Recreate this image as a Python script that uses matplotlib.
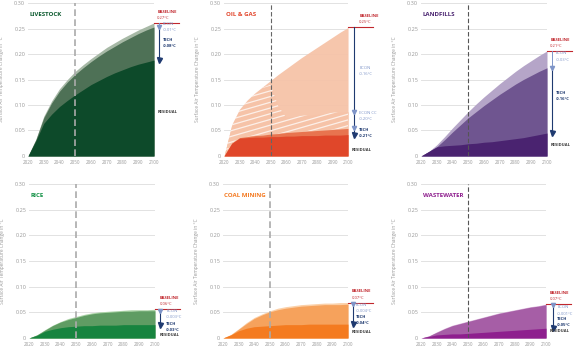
import numpy as np
import matplotlib
matplotlib.use("Agg")
import matplotlib.pyplot as plt

plt.rcParams["font.family"] = ["Open Sans", "DejaVu Sans"]

years = [2020, 2025, 2030, 2035, 2040, 2045, 2050, 2055, 2060,
         2065, 2070, 2075, 2080, 2085, 2090, 2095, 2100]

# warming contribution in degC
livestock_baseline = [0, 0.033, 0.078, 0.108, 0.132, 0.150, 0.166, 0.179, 0.191,
                      0.202, 0.213, 0.222, 0.231, 0.239, 0.247, 0.254, 0.261]
livestock_econ = [0, 0.032, 0.075, 0.104, 0.127, 0.145, 0.160, 0.173, 0.185,
                  0.196, 0.206, 0.215, 0.224, 0.232, 0.240, 0.247, 0.253]
livestock_residual = [0, 0.030, 0.064, 0.082, 0.097, 0.109, 0.120, 0.130, 0.140,
                      0.148, 0.156, 0.163, 0.169, 0.175, 0.180, 0.184, 0.188]

oilgas_baseline = [0, 0.062, 0.092, 0.110, 0.124, 0.136, 0.148, 0.160, 0.171,
                   0.182, 0.193, 0.203, 0.213, 0.223, 0.233, 0.243, 0.252]
oilgas_econ = [0, 0.060, 0.090, 0.108, 0.122, 0.134, 0.140, 0.098, 0.076,
               0.077, 0.079, 0.080, 0.082, 0.083, 0.085, 0.086, 0.087]
oilgas_econcc = [0, 0.025, 0.036, 0.038, 0.040, 0.041, 0.043, 0.044, 0.046,
                 0.047, 0.048, 0.049, 0.050, 0.051, 0.052, 0.053, 0.054]
oilgas_residual = [0, 0.025, 0.035, 0.036, 0.037, 0.037, 0.038, 0.038, 0.039,
                   0.039, 0.040, 0.040, 0.040, 0.041, 0.041, 0.041, 0.042]

landfill_baseline = [0, 0.009, 0.022, 0.038, 0.055, 0.071, 0.087, 0.102, 0.116,
                     0.129, 0.142, 0.154, 0.166, 0.177, 0.187, 0.197, 0.206]
landfill_econ = [0, 0.009, 0.018, 0.032, 0.047, 0.061, 0.075, 0.087, 0.099,
                 0.110, 0.121, 0.131, 0.141, 0.150, 0.158, 0.166, 0.173]
landfill_residual = [0, 0.009, 0.018, 0.020, 0.021, 0.022, 0.024, 0.025, 0.027,
                     0.028, 0.030, 0.032, 0.034, 0.036, 0.039, 0.042, 0.045]

rice_baseline = [0, 0.006, 0.016, 0.025, 0.032, 0.038, 0.042, 0.046, 0.049,
                 0.051, 0.052, 0.053, 0.054, 0.055, 0.055, 0.055, 0.056]
rice_econ = [0, 0.006, 0.015, 0.024, 0.031, 0.036, 0.040, 0.044, 0.047,
             0.049, 0.050, 0.051, 0.052, 0.052, 0.053, 0.053, 0.053]
rice_residual = [0, 0.005, 0.013, 0.017, 0.020, 0.022, 0.023, 0.024, 0.024,
                 0.025, 0.025, 0.025, 0.026, 0.026, 0.026, 0.026, 0.026]

coal_baseline = [0, 0.007, 0.018, 0.030, 0.040, 0.047, 0.053, 0.058, 0.061,
                 0.063, 0.065, 0.066, 0.067, 0.068, 0.068, 0.069, 0.069]
coal_econ = [0, 0.006, 0.017, 0.028, 0.038, 0.045, 0.051, 0.055, 0.058,
             0.060, 0.062, 0.063, 0.064, 0.065, 0.065, 0.065, 0.066]
coal_residual = [0, 0.006, 0.014, 0.019, 0.022, 0.023, 0.024, 0.025, 0.026,
                 0.026, 0.026, 0.027, 0.027, 0.027, 0.027, 0.027, 0.027]

waste_baseline = [0, 0.004, 0.012, 0.019, 0.025, 0.029, 0.033, 0.037, 0.041,
                  0.045, 0.049, 0.052, 0.055, 0.058, 0.061, 0.063, 0.066]
waste_econ = [0, 0.004, 0.011, 0.018, 0.024, 0.028, 0.032, 0.036, 0.040,
              0.044, 0.048, 0.051, 0.054, 0.057, 0.060, 0.062, 0.065]
waste_residual = [0, 0.003, 0.006, 0.007, 0.008, 0.008, 0.009, 0.010, 0.011,
                  0.012, 0.013, 0.014, 0.015, 0.016, 0.017, 0.018, 0.019]

titles = ["LIVESTOCK", "OIL & GAS", "LANDFILLS", "RICE", "COAL MINING", "WASTEWATER"]
baseline_text = ["0.27°C", "0.25°C", "0.21°C", "0.06°C", "0.07°C", "0.07°C"]
econ_text = ["-0.01°C", "-0.16°C", "-0.03°C", "-0.003°C", "-0.004°C", "-0.001°C"]
econcc_text = "-0.20°C"
tech_text = ["-0.08°C", "-0.21°C", "-0.16°C", "-0.03°C", "-0.04°C", "-0.05°C"]

yticks = [0, 0.05, 0.10, 0.15, 0.20, 0.25, 0.30]
ytick_labels = ["0", "0.05", "0.10", "0.15", "0.20", "0.25", "0.30"]

RED = "#c1272d"
NAVY = "#1f3a70"
LIGHTBLUE = "#7f95c8"
GREY = "#999999"

# layout: axes rect, title colour, fills (light, mid, dark), dash colour,
# annotation x positions and label heights
panels = [
    dict(rect=[0.0487, 0.5543, 0.2191, 0.4371], title_c="#0b5a2e",
         colors=["#a7b9a6", "#4e7156", "#0d4a2a"], dash="#aaaaaa", dlw=1.2,
         bx=1.025, ax_=1.04, lx=1.07, econ_y=0.253, tech_y=0.221, res_y=0.086),
    dict(rect=[0.3896, 0.5543, 0.2157, 0.4371], title_c="#e2452b",
         colors=["#f6c3a8", "#e8744f", "#e0472a"], dash="#666666", dlw=0.8,
         bx=1.09, ax_=1.048, lx=1.09, econ_y=0.167, cc_y=0.078, tech_y=0.045, res_y=0.012),
    dict(rect=[0.7322, 0.5543, 0.2191, 0.4371], title_c="#4b2571",
         colors=["#b5a5c8", "#6f5590", "#4a2370"], dash="#555555", dlw=0.8,
         bx=1.025, ax_=1.04, lx=1.07, econ_y=0.195, tech_y=0.118, res_y=0.0216),
    dict(rect=[0.0504, 0.0343, 0.2191, 0.44], title_c="#129045",
         colors=["#a9d2a5", "#5f9c63", "#17843f"], dash="#aaaaaa", dlw=1.2,
         bx=1.035, ax_=1.04, lx=1.09, econ_y=0.046, tech_y=0.021, res_y=0.006),
    dict(rect=[0.3878, 0.0343, 0.2174, 0.44], title_c="#f47920",
         colors=["#fbd0a8", "#f6a25c", "#f47b20"], dash="#aaaaaa", dlw=1.2,
         bx=1.03, ax_=1.04, lx=1.065, econ_y=0.058, tech_y=0.035, res_y=0.012),
    dict(rect=[0.7322, 0.0343, 0.2174, 0.44], title_c="#8e1f8e",
         colors=["#dab6da", "#a65ea6", "#8e1f8e"], dash="#555555", dlw=0.8,
         bx=1.03, ax_=1.055, lx=1.09, econ_y=0.0536, tech_y=0.032, res_y=0.0136),
]


def style_axes(ax, p, title):
    ax.set_xlim(2020, 2100)
    ax.set_ylim(0, 0.30)
    ax.set_xticks(range(2020, 2101, 10))
    ax.set_yticks(yticks)
    ax.set_yticklabels(ytick_labels)
    ax.tick_params(axis="x", length=0, labelsize=3.3, colors=GREY, pad=3)
    ax.tick_params(axis="y", length=0, labelsize=4, colors=GREY, pad=2)
    for s in ax.spines.values():
        s.set_visible(False)
    ax.yaxis.grid(True, color="#e2e2e2", lw=0.7)
    ax.set_axisbelow(True)
    ax.set_ylabel("Surface Air Temperature Change in °C", fontsize=3.5, color=GREY)
    ax.yaxis.set_label_coords(-0.19, 0.5)
    ax.axvline(2050, color=p["dash"], lw=p["dlw"], ls=(0, (4, 2)), zorder=5)
    ax.text(0.012, 0.925, title, transform=ax.transAxes, fontsize=4.4,
            fontweight="bold", color=p["title_c"], va="center", ha="left", zorder=6)


def small(ax, x, y, txt, color, bold=False, dy=0):
    ax.annotate(txt, xy=(x, y), xycoords=ax.get_yaxis_transform(),
                xytext=(0, dy), textcoords="offset points", fontsize=3,
                color=color, fontweight="bold" if bold else "normal",
                ha="left", va="center", annotation_clip=False)


def annotate_end(ax, p, i, base, econ, end, econcc=None):
    tr = ax.get_yaxis_transform()
    ax.plot([1.0, 1.2], [base, base], transform=tr, color=RED, lw=0.8, clip_on=False)
    small(ax, p["bx"], base, "BASELINE", RED, True, 8)
    small(ax, p["bx"], base, baseline_text[i], RED, False, 3.6)

    x = p["ax_"]
    if econcc is None:
        ax.plot([x, x], [base, econ], transform=tr, color=LIGHTBLUE, lw=0.7, clip_on=False)
        ax.plot([x, x], [econ, end], transform=tr, color=NAVY, lw=0.8, clip_on=False)
        ax.plot([x], [econ], marker="v", ms=3, color=LIGHTBLUE, transform=tr, clip_on=False)
    else:
        ax.plot([x, x], [base, end], transform=tr, color=NAVY, lw=0.8, clip_on=False)
        ax.plot([x, x], [econ, econcc], marker="v", ms=3, ls="none",
                color=LIGHTBLUE, transform=tr, clip_on=False)
    ax.plot([x], [end], marker="v", ms=3.6, color=NAVY, transform=tr, clip_on=False)

    small(ax, p["lx"], p["econ_y"], "ECON", LIGHTBLUE, False, 2.2)
    small(ax, p["lx"], p["econ_y"], econ_text[i], LIGHTBLUE, False, -2.2)
    if econcc is not None:
        small(ax, p["lx"], p["cc_y"], "ECON CC", LIGHTBLUE, False, 2.2)
        small(ax, p["lx"], p["cc_y"], econcc_text, LIGHTBLUE, False, -2.2)
    small(ax, p["lx"], p["tech_y"], "TECH", NAVY, True, 2.2)
    small(ax, p["lx"], p["tech_y"], tech_text[i], NAVY, True, -2.2)
    small(ax, p["bx"] if econcc is None else 1.03, p["res_y"], "RESIDUAL", "#3a3a3a", True)


def draw_simple(ax, p, i, baseline, econ, residual):
    light, mid, dark = p["colors"]
    ax.fill_between(years, 0, baseline, color=light, lw=0, zorder=1)
    ax.fill_between(years, 0, econ, color=mid, lw=0, zorder=2)
    ax.fill_between(years, 0, residual, color=dark, lw=0, zorder=3)
    annotate_end(ax, p, i, baseline[-1], econ[-1], residual[-1])


def draw_oilgas(ax, p, i):
    light, mid, dark = p["colors"]
    ax.fill_between(years, 0, oilgas_baseline, color=light, lw=0, zorder=1, alpha=0.95)
    band = ax.fill_between(years, oilgas_econcc, oilgas_econ, color=light, lw=0, zorder=2)
    clip = band.get_paths()[0]
    # white diagonal stripes on the econ cc band
    for c in np.arange(-0.10, 0.30, 0.0112):
        ln, = ax.plot([2020, 2100], [c, c + 0.07], color="white", lw=0.9,
                      alpha=0.75, zorder=2.5)
        ln.set_clip_path(clip, ax.transData)
    ax.fill_between(years, 0, oilgas_econcc, color=mid, lw=0, zorder=3)
    ax.fill_between(years, 0, oilgas_residual, color=dark, lw=0, zorder=4)
    annotate_end(ax, p, i, oilgas_baseline[-1], oilgas_econ[-1],
                 oilgas_residual[-1], econcc=oilgas_econcc[-1])


def main():
    fig = plt.figure(figsize=(5.75, 3.5), dpi=100)
    axes = [fig.add_axes(p["rect"]) for p in panels]

    draw_simple(axes[0], panels[0], 0, livestock_baseline, livestock_econ, livestock_residual)
    draw_oilgas(axes[1], panels[1], 1)
    draw_simple(axes[2], panels[2], 2, landfill_baseline, landfill_econ, landfill_residual)
    draw_simple(axes[3], panels[3], 3, rice_baseline, rice_econ, rice_residual)
    draw_simple(axes[4], panels[4], 4, coal_baseline, coal_econ, coal_residual)
    draw_simple(axes[5], panels[5], 5, waste_baseline, waste_econ, waste_residual)

    for ax, p, t in zip(axes, panels, titles):
        style_axes(ax, p, t)

    fig.savefig("out.png", dpi=100)
    plt.close(fig)


if __name__ == "__main__":
    main()
